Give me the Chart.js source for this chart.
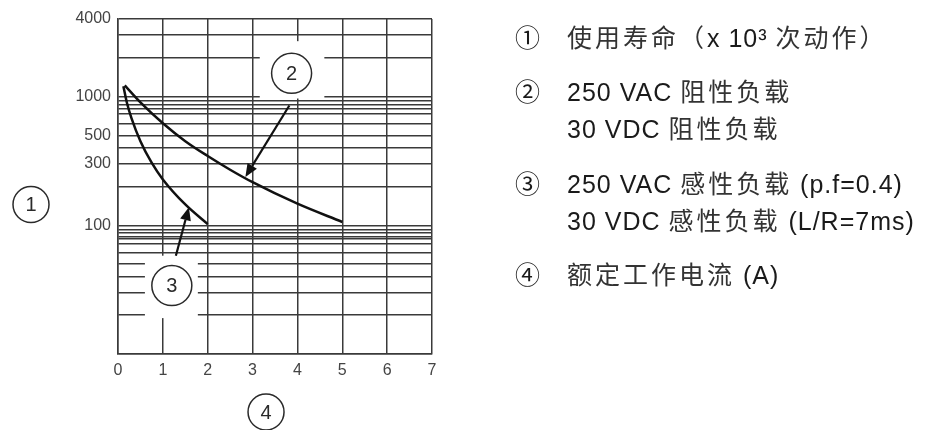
<!DOCTYPE html>
<html>
<head>
<meta charset="utf-8">
<script src="https://cdn.jsdelivr.net/npm/chart.js@4/dist/chart.umd.min.js"></script>
<style>
body{margin:0;background:#fff;}
#wrap{position:relative;width:925px;height:430px;overflow:hidden;}
#graf{position:absolute;left:0;top:0;}
.ln{position:absolute;left:567px;white-space:nowrap;font:25px "Liberation Sans",Arial,sans-serif;letter-spacing:1px;color:#1a1a1a;line-height:30px;}
.ln .c{font-family:"Noto Sans CJK SC",sans-serif;font-size:25px;letter-spacing:3px;color:#333;}
.num{position:absolute;left:515px;font:25px "Noto Sans CJK SC",sans-serif;color:#1a1a1a;line-height:30px;}
</style>
</head>
<body>
<div id="wrap">
<canvas id="graf" width="925" height="430"></canvas>
<div class="num" style="top:21px">①</div>
<div class="ln" style="top:21px"><span class="c">使用寿命（</span>x 10³ <span class="c">次动作）</span></div>
<div class="num" style="top:75px">②</div>
<div class="ln" style="top:75px">250 VAC <span class="c">阻性负载</span></div>
<div class="ln" style="top:112px">30 VDC <span class="c">阻性负载</span></div>
<div class="num" style="top:167px">③</div>
<div class="ln" style="top:167px">250 VAC <span class="c">感性负载</span> (p.f=0.4)</div>
<div class="ln" style="top:204px">30 VDC <span class="c">感性负载</span> (L/R=7ms)</div>
<div class="num" style="top:258px">④</div>
<div class="ln" style="top:258px"><span class="c">额定工作电流</span> (A)</div>
</div>
<script>
// eixo x: corrente (A), eixo y: vida util (x10^3)
const xTicks = [0,1,2,3,4,5,6,7];
const yGrid = [10,20,30,40,50,61,72,78,82,88,93,100,200,300,400,500,610,740,810,870,930,1000,2000,3000,4000];
const yLabels = [100,300,500,1000,4000];

// curva 2: carga resistiva
const c2x = [0.15,0.5,1,1.5,2,2.5,3,4,5];
const c2y = [1220,900,620,450,345,270,216,147,106];
// curva 3: carga indutiva
const c3x = [0.12,0.2,0.3,0.5,0.75,1,1.5,2];
const c3y = [1200,890,680,450,306,227,145,102];

const LINHA = '#3a3a3a';

function pts(xs, ys){
    return xs.map((x,i) => ({x:x, y:ys[i]}));
}

// marcadores (circulos, setas, caixas brancas) em unidades dos dados
const marcas = {
    caixas: [
        {x0:3.16, x1:4.6, y0:965, y1:2690},
        {x0:0.6, x1:1.78, y0:19, y1:58}
    ],
    circulos: [
        {x:3.87, y:1514, t:'2'},
        {x:1.2, y:34, t:'3'}
    ],
    setas: [
        {x0:3.82, y0:851, x1:2.84, y1:237},
        {x0:1.29, y0:58, x1:1.58, y1:138}
    ]
};

function circulo(ctx, cx, cy, r, t){
    ctx.beginPath();
    ctx.arc(cx, cy, r, 0, Math.PI*2);
    ctx.lineWidth = 1.5;
    ctx.strokeStyle = '#2a2a2a';
    ctx.stroke();
    ctx.fillStyle = '#2a2a2a';
    ctx.font = '20px "Liberation Sans", Arial, sans-serif';
    ctx.textAlign = 'center';
    ctx.textBaseline = 'middle';
    ctx.fillText(t, cx, cy+1);
}

function seta(ctx, x0, y0, x1, y1){
    let ang = Math.atan2(y1-y0, x1-x0);
    let L = 13, W = 5.5;
    let bx = x1 - L*Math.cos(ang), by = y1 - L*Math.sin(ang);
    ctx.beginPath();
    ctx.moveTo(x0, y0);
    ctx.lineTo(bx, by);
    ctx.lineWidth = 2.2;
    ctx.strokeStyle = '#111';
    ctx.stroke();
    ctx.beginPath();
    ctx.moveTo(x1, y1);
    ctx.lineTo(bx + W*Math.sin(ang), by - W*Math.cos(ang));
    ctx.lineTo(bx - W*Math.sin(ang), by + W*Math.cos(ang));
    ctx.closePath();
    ctx.fillStyle = '#111';
    ctx.fill();
}

const anotacoes = {
    id: 'anotacoes',
    beforeDatasetsDraw(chart){
        let ctx = chart.ctx, sx = chart.scales.x, sy = chart.scales.y;
        ctx.save();
        ctx.fillStyle = '#fff';
        marcas.caixas.forEach(b => {
            let l = sx.getPixelForValue(b.x0), r = sx.getPixelForValue(b.x1);
            let t = sy.getPixelForValue(b.y1), bo = sy.getPixelForValue(b.y0);
            ctx.fillRect(l, t, r-l, bo-t);
        });
        ctx.restore();
    },
    afterDatasetsDraw(chart){
        let ctx = chart.ctx, sx = chart.scales.x, sy = chart.scales.y, a = chart.chartArea;
        ctx.save();
        marcas.circulos.forEach(c => circulo(ctx, sx.getPixelForValue(c.x), sy.getPixelForValue(c.y), 20, c.t));
        marcas.setas.forEach(s => seta(ctx, sx.getPixelForValue(s.x0), sy.getPixelForValue(s.y0), sx.getPixelForValue(s.x1), sy.getPixelForValue(s.y1)));
        // titulos dos eixos
        circulo(ctx, a.left - 87, (a.top + a.bottom)/2 + 18, 18, '1');
        circulo(ctx, sx.getPixelForValue(3.3), a.bottom + 58, 18, '4');
        ctx.restore();
    }
};

function grafico(){
    let ctx = document.getElementById('graf');
    let config = {
        type: 'line',
        data: {
            datasets: [{
                label: '2',
                data: pts(c2x, c2y),
                borderColor: '#111',
                borderWidth: 2.5,
                pointRadius: 0,
                fill: false,
                cubicInterpolationMode: 'monotone'
            },
            {
                label: '3',
                data: pts(c3x, c3y),
                borderColor: '#111',
                borderWidth: 2.5,
                pointRadius: 0,
                fill: false,
                cubicInterpolationMode: 'monotone'
            }]
        },
        options: {
            responsive: false,
            animation: false,
            events: [],
            layout: {
                padding: {left: 0, right: 493, top: 19, bottom: 0}
            },
            scales: {
                x: {
                    type: 'linear',
                    min: 0,
                    max: 7,
                    afterBuildTicks: s => { s.ticks = xTicks.map(v => ({value: v})); },
                    afterFit: s => { s.height = 76; },
                    grid: {color: LINHA, lineWidth: 1.5, drawTicks: false},
                    border: {color: LINHA, width: 1.5},
                    ticks: {
                        padding: 7,
                        color: '#444',
                        font: {family: '"Liberation Sans", Arial, sans-serif', size: 16}
                    }
                },
                y: {
                    type: 'logarithmic',
                    min: 10,
                    max: 4000,
                    afterBuildTicks: s => { s.ticks = yGrid.map(v => ({value: v})); },
                    afterFit: s => { s.width = 118; },
                    grid: {color: LINHA, lineWidth: 1.5, drawTicks: false},
                    border: {color: LINHA, width: 1.5},
                    ticks: {
                        autoSkip: false,
                        padding: 7,
                        color: '#444',
                        font: {family: '"Liberation Sans", Arial, sans-serif', size: 16},
                        callback: v => yLabels.includes(v) ? String(v) : ''
                    }
                }
            },
            plugins: {
                legend: {display: false},
                tooltip: {enabled: false}
            }
        },
        plugins: [anotacoes]
    };
    new Chart(ctx, config);
}
grafico();
</script>
</body>
</html>
